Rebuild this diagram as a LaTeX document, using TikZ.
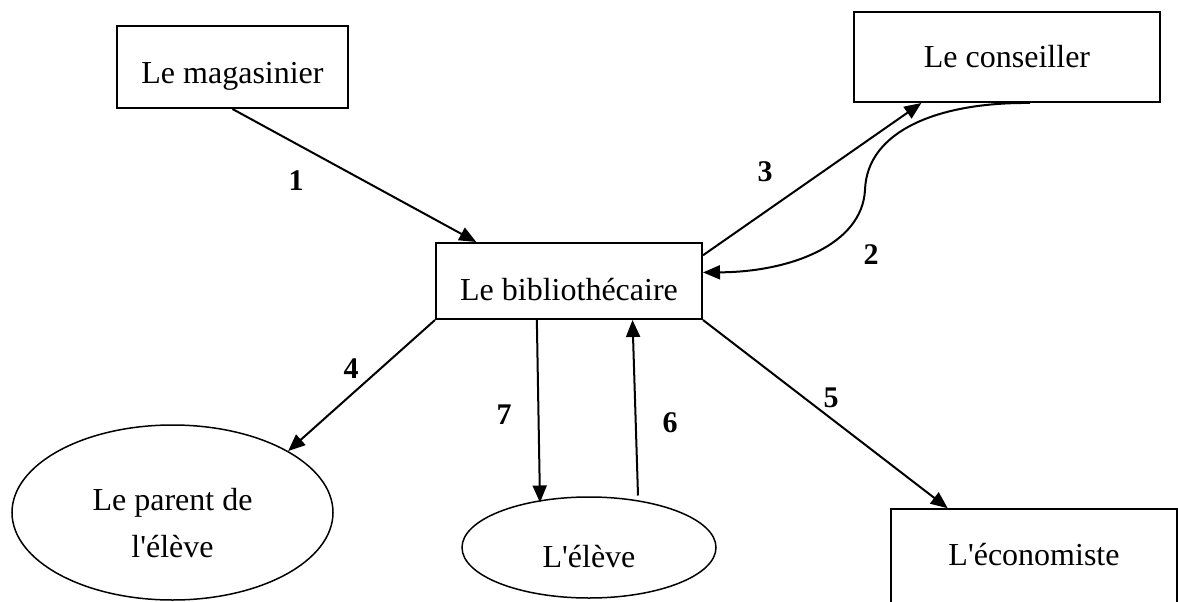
\documentclass[tikz,border=0pt]{standalone}
\usepackage{fontspec}
\setmainfont{Liberation Serif}
\usetikzlibrary{shapes.geometric,arrows.meta,calc}
\begin{document}
\begin{tikzpicture}[x=1pt,y=-1pt,
  box/.style={draw=black,line width=2pt,rectangle,inner sep=0pt,font=\fontsize{32}{38}\selectfont},
  oval/.style={draw=black,line width=1.5pt,ellipse,inner sep=0pt,align=center,font=\fontsize{32}{47}\selectfont},
  num/.style={inner sep=0pt,font=\fontsize{30}{36}\selectfont\bfseries},
  arr/.style={line width=2pt,-{Triangle[length=17pt,width=14pt]}}]
\path[use as bounding box,clip] (0,0) rectangle (1178,602);
% nodes
\node[box,minimum width=231pt,minimum height=82pt,text height=32pt,text depth=0pt] (mag) at (232.5,67) {Le magasinier};
\node[box,minimum width=306pt,minimum height=90pt,text height=20pt,text depth=0pt] (cons) at (1007,57) {Le conseiller};
\node[box,minimum width=266pt,minimum height=76pt,text height=38pt,text depth=0pt] (bib) at (569,281) {Le biblioth\'ecaire};
\node[box,line width=1.5pt,minimum width=286pt,minimum height=111pt,text height=1pt,text depth=0pt] (eco) at (1034,564.5) {L\textquotesingle\'economiste};
\node[oval,minimum width=321pt,minimum height=175pt,text height=89pt,text depth=0pt] (par) at (172.5,512.5) {Le parent de\\l\textquotesingle\'el\`eve};
\node[oval,minimum width=254pt,minimum height=101pt,text height=39pt,text depth=0pt] (ele) at (589,547.5) {L\textquotesingle\'el\`eve};
% connectors
\draw[arr] (mag.south) -- ($(bib.north west)!0.154!(bib.north east)$);
\draw[arr] ($(bib.north east)!0.17!(bib.south east)$) -- ($(cons.south west)!0.222!(cons.south east)$);
\draw[arr] ($(cons.south west)!0.575!(cons.south east)$) .. controls (940,102) and (867,130) .. (865,190)
   .. controls (862,245) and (790,272) .. ($(bib.north east)!0.39!(bib.south east)$);
\draw[arr] (bib.south west) -- (par.28);
\draw[arr] (bib.south east) -- ($(eco.north west)!0.2!(eco.north east)$);
\draw[arr] ($(bib.south west)!0.38!(bib.south east)$) -- ($(ele.center)+(-49,-45)$);
\draw[arr] ($(ele.center)+(49,-52)$) -- ($(bib.south west)!0.737!(bib.south east)$);
% labels
\node[num] (l1) at (296,181) {1};
\node[num] (l2) at (871,255) {2};
\node[num] (l3) at (765,172) {3};
\node[num] (l4) at (351,369) {4};
\node[num] (l5) at (831,398) {5};
\node[num] (l6) at (670,423) {6};
\node[num] (l7) at (504,415) {7};
\end{tikzpicture}
\end{document}
